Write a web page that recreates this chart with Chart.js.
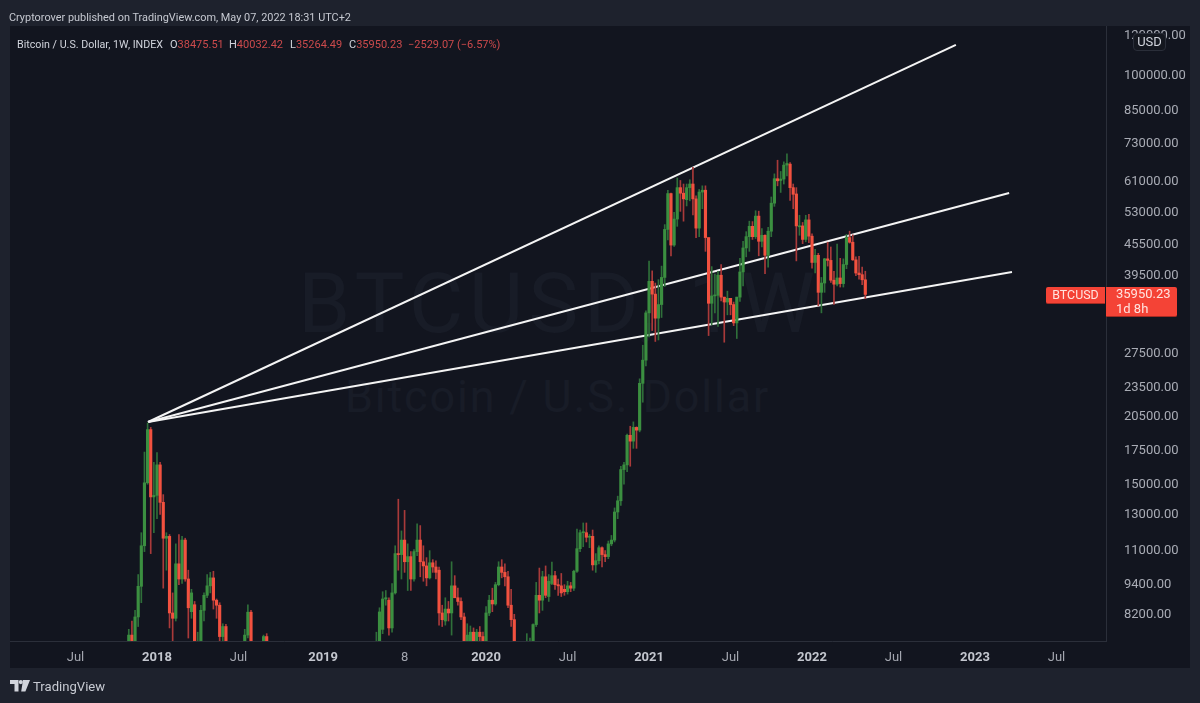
<!DOCTYPE html>
<html>
<head>
<meta charset="utf-8">
<title>Bitcoin / U.S. Dollar, 1W</title>
<script src="https://cdn.jsdelivr.net/npm/chart.js@4"></script>
<style>
  html, body { margin: 0; padding: 0; background: #1e222d; width: 1200px; height: 703px; overflow: hidden; }
  body { font-family: Roboto, "Liberation Sans", sans-serif; position: relative; }
  #panel { position: absolute; left: 10px; top: 26px; width: 1180px; height: 642px; background: #12151f; }
  .mark { position: absolute; color: #181c27; white-space: nowrap; font-family: Roboto, sans-serif; }
  #markSymbol { left: 298px; top: 254px; font-size: 84px; letter-spacing: 5.3px; }
  #markName { left: 345px; top: 370px; font-size: 45px; letter-spacing: 1.8px; }
  #stage { position: absolute; left: 0; top: 0; width: 1200px; height: 703px; }
  .text { position: absolute; white-space: nowrap; }
  #byline { left: 9px; top: 11px; font-size: 10.9px; color: #c6c9d1; }
  .legend { top: 38px; font-size: 11px; color: #d1d4dc; }
  .legend.name { font-size: 10.7px; top: 38px; }
  .legend b { font-weight: 400; color: #cc4a4c; }
  #usd { left: 1133px; top: 33px; width: 31px; height: 16px; border: 1px solid #2a2e39; border-radius: 4px; background: #14171f;
         color: #d1d4dc; font-size: 13px; line-height: 16px; text-align: center; }
  #tagName { left: 1046px; top: 287px; width: 59px; height: 16px; background: #f44336; border-bottom: 1px solid #a52b22; border-radius: 2px 0 0 2px;
             color: #ffe3df; font-size: 12.4px; line-height: 16px; text-align: center; }
  #tagPrice { left: 1106px; top: 287px; width: 71px; height: 29px; background: #f44336; border-bottom: 1px solid #a52b22; border-radius: 0 2px 2px 0;
              color: #ffe3df; font-size: 13px; line-height: 14.5px; padding-left: 0; }
  #tagPrice span { display: block; margin-left: 10px; }
  #brand { left: 33px; top: 679px; font-size: 13.1px; color: #c8cbd3; }
  #logo { position: absolute; left: 10px; top: 680px; }
</style>
</head>
<body>
<div id="panel"></div>
<div class="mark" id="markSymbol">BTCUSD, 1W</div>
<div class="mark" id="markName">Bitcoin / U.S. Dollar</div>
<div id="stage"><canvas id="chart" width="1200" height="703"></canvas></div>

<div class="text" id="byline">Cryptorover published on TradingView.com, May 07, 2022 18:31 UTC+2</div>
<div class="text legend name" style="left:17px">Bitcoin / U.S. Dollar, 1W, INDEX</div>
<div class="text legend" style="left:170px">O<b>38475.51</b></div>
<div class="text legend" style="left:229px">H<b>40032.42</b></div>
<div class="text legend" style="left:290px">L<b>35264.49</b></div>
<div class="text legend" style="left:349px">C<b>35950.23</b></div>
<div class="text legend" style="left:408px"><b>−2529.07 (−6.57%)</b></div>
<div class="text" id="usd">USD</div>
<div class="text" id="tagName">BTCUSD</div>
<div class="text" id="tagPrice"><span>35950.23</span><span>1d 8h</span></div>
<svg id="logo" width="20" height="12" viewBox="0 0 20 12">
  <path d="M0 0h8.5v11.5h-4V4H0z M13 0h7l-4.6 11.5H11.2z" fill="#d1d4dc"/>
  <circle cx="10.8" cy="2.1" r="2.1" fill="#d1d4dc"/>
</svg>
<div class="text" id="brand">TradingView</div>

<script>
// Weekly candles, one entry per week. Week 0 starts on 2018-01-01.
const firstWeek = -9;

const opens = [
  6100,7400,5900,8050,9280,11200,15000,19200,14050,14150,
  16300,13700,11600,11700,8200,8000,10300,9600,11500,9600,
  8250,8520,6900,7000,8300,8900,9300,9650,8700,8500,
  7350,7700,6700,6500,6200,6300,6700,6300,7400,8230,
  7000,6300,6300,6700,7350,6500,6500,6700,6600,6600,
  6500,6500,6450,6350,6400,5600,4300,4000,3500,3200,
  3900,3800,3850,3600,3550,3570,3450,3450,3650,3880,
  3850,3930,3980,3990,4100,5000,5080,5300,5300,5700,
  7150,7600,8750,8700,7650,9000,10800,10750,11500,10400,
  10650,9600,10900,11500,10400,10200,9650,10350,10150,10000,
  8200,7900,8350,8200,9300,8800,8650,8050,7050,7100,
  7500,7150,7500,7350,7000,8200,8700,8550,9350,10150,
  9900,9700,8500,7950,5200,5800,6250,6770,7050,7100,
  7770,8900,8700,9700,8850,9400,9750,9350,9300,9150,
  9050,9300,9200,9950,11050,11900,11900,11650,11700,10250,
  10450,11100,10750,10650,11300,11500,13100,13800,15950,16300,
  18700,18200,19400,19150,23800,26500,33000,38200,36000,32200,
  34300,38900,48600,57400,45200,51000,59000,57500,55800,59000,
  60000,56000,48900,57800,58300,46800,34500,35700,35800,39300,
  35500,34700,35300,34300,31500,35500,39900,44600,47000,49300,
  47000,51700,46000,47300,43100,48200,54900,61500,61000,61400,
  65500,65800,59000,57300,49200,49400,46400,50800,47100,41700,
  43100,36300,37900,42400,42100,38400,37700,38800,37800,41300,
  46800,45800,42200,39700,39400,38475.51
];

const highs = [
  7600,7900,8300,9800,11900,17300,19800,19400,16500,17250,
  16500,14200,11900,11800,9000,11300,11800,11700,11600,10000,
  9150,8650,7500,8500,9000,9800,9900,9950,8750,8600,
  7800,7780,6900,6800,6500,6800,6800,7600,8520,8300,
  7150,6500,6800,7400,7450,6700,6800,6800,6700,6650,
  6650,6600,6550,6550,6500,5700,4500,4400,3600,4200,
  4200,4050,4100,3700,3650,3650,3550,3700,4150,3950,
  4000,4050,4100,4250,5350,5450,5450,5650,5800,7500,
  8400,9050,9100,8800,9400,11200,13900,12000,13200,11300,
  10900,11000,12400,12300,11200,10600,10950,10500,10450,10150,
  8500,8800,8650,10400,9750,9200,8800,8200,7800,7720,
  7650,7600,7700,7500,8450,8900,9200,9450,10400,10500,
  10300,9950,9150,8150,6900,6950,7150,7450,7300,7800,
  9450,10100,9950,10200,9800,10380,9950,9600,9850,9350,
  9500,9450,10000,12100,12050,12450,12450,11800,12050,10800,
  11200,11150,10950,11450,11750,13350,14100,16200,16500,18800,
  19500,19900,19450,24300,28400,33300,41950,40100,37900,38500,
  41000,49700,58300,57500,52600,61700,61000,60000,60000,61200,
  64800,56800,58500,59500,59500,46800,40900,39500,40000,41300,
  35500,36500,35200,34700,35500,42500,46000,48100,50500,50400,
  53000,52900,48800,47400,49100,56500,62900,67000,63600,66500,
  69000,66300,60000,59000,51900,50200,51900,52100,47600,44300,
  43500,38900,42500,45800,44800,40000,45400,42500,42400,47500,
  48200,47400,42800,42900,40800,40032.42
];

const lows = [
  6000,5500,5600,7700,8600,10900,14900,10800,11900,12700,
  12950,9200,10000,7650,6000,7900,9350,9400,9500,7300,
  8000,6600,6600,6900,7900,8800,9000,8350,8000,7100,
  7100,6500,6300,5800,5800,6200,6100,6250,7300,6900,
  5900,5900,6200,6650,6100,6200,6400,6350,6450,6250,
  6150,6350,6300,6250,5300,3800,3500,3400,3150,3150,
  3650,3650,3500,3450,3500,3400,3350,3430,3620,3700,
  3750,3850,3900,3850,4050,4850,5000,5150,5150,5650,
  6800,7450,8500,7400,7500,8950,10000,9600,9900,9100,
  9100,9500,10700,9700,9500,9300,9600,9900,9600,7750,
  7700,7750,7900,7400,8800,8500,7950,6500,6900,7000,
  7000,6900,7200,6900,6850,8100,8250,8500,9300,9650,
  9300,8400,7700,3900,4500,5700,6150,6750,6500,7000,
  7700,8200,8300,8800,8650,9350,9150,8900,8850,8900,
  8950,9050,9100,9900,10900,11150,11400,11100,10000,9900,
  10300,10150,10400,10550,11200,11400,12700,13500,14900,15800,
  16200,17600,17600,19000,21800,25800,29500,30400,28900,29100,
  32300,37300,46300,43000,44900,49300,52850,50500,54200,55500,
  52000,46800,47000,53500,43900,29700,31200,33000,31000,34900,
  28800,32700,32700,31100,29300,34800,37400,42800,43900,46400,
  46600,43000,44800,39600,40800,47000,54100,59500,57700,60000,
  62300,55600,53500,42000,47300,45500,45900,45700,40600,39700,
  34100,33000,36300,41000,38000,34300,37400,37200,37200,40500,
  45600,42100,39200,38600,37600,35264.49
];

const closes = [
  7400,5900,8050,9280,11200,15000,19200,14050,14150,16300,
  13700,11600,11700,8200,8000,10300,9600,11500,9600,8400,
  9000,7000,7000,8300,8900,9300,9650,8700,8500,7350,
  7700,6700,6500,6200,6300,6700,6300,7400,8230,7000,
  6300,6300,6700,7350,6500,6500,6700,6600,6600,6500,
  6500,6450,6350,6400,5600,4300,4000,3500,3200,3900,
  3800,3850,3600,3550,3570,3450,3450,3650,3880,3850,
  3930,3980,3990,4100,5000,5080,5300,5300,5700,7150,
  8240,8750,8800,7650,9000,10800,10750,11500,10400,10650,
  9600,10900,11500,10400,10200,9650,10350,10150,9900,8200,
  7950,8350,8200,9300,8800,8650,8050,7050,7400,7500,
  7150,7500,7350,7000,8200,8700,8550,9350,10150,9900,
  9700,8500,7950,5200,5800,6250,6770,7050,7100,7770,
  8900,8700,9700,8900,9500,9750,9350,9300,9000,9050,
  9300,9200,9950,11050,11900,11950,11650,11700,10250,10450,
  11100,10750,10650,11300,11500,13100,13800,15950,16300,18700,
  18200,19400,19150,23800,26500,33000,38200,36000,32200,34300,
  38900,48600,57400,45200,51000,59000,57500,56000,59000,60000,
  56000,48900,57800,58300,46800,34500,35700,35800,39300,35500,
  34700,35300,34300,31500,35500,39900,44600,47000,49300,47000,
  51700,46000,47300,43100,48200,54900,61500,60900,61400,65500,
  66000,59000,57200,49400,49400,46400,50800,47100,41700,43100,
  36300,37900,42400,42100,38400,37700,38800,37800,41300,46800,
  45800,42200,39700,39400,38475.51,35950.23
];

// Price axis range and labels
const priceMin = 7200;
const priceMax = 124900;
const priceTicks = [120000,100000,85000,73000,61000,53000,45500,39500,27500,23500,20500,17500,15000,13000,11000,9400,8200];

// Time axis labels, given by the week they fall on
const timeTickWeeks  = [-26,0,26,53,79,105,131,157,183,209,235,261,287];
const timeTickLabels = ['Jul','2018','Jul','2019','8','2020','Jul','2021','Jul','2022','Jul','2023','Jul'];

// Drawn trend lines: all three fan out of the December 2017 top
const trendOriginWeek = -2.87;
const trendOriginPrice = 19890;
const trendEndWeeks  = [254.9, 271.9, 272.8];
const trendEndPrices = [114400, 57570, 39900];

const UP_BODY = '#3b8f40', UP_WICK = '#2f6f3a';
const DOWN_BODY = '#f2513f', DOWN_WICK = '#a93a3a';

const isUp = i => closes[i] >= opens[i];

// Weeks that lie wholly under the axis floor get no bar, otherwise the minimum
// bar length would pin a stub onto the bottom edge of the plot.
const inRange = (a, b) => Math.max(a, b) >= priceMin;
const wickIdx = opens.map((_, i) => i).filter(i => inRange(lows[i], highs[i]));
const bodyIdx = opens.map((_, i) => i).filter(i => inRange(opens[i], closes[i]));

const wicks = {
  type: 'bar', order: 2, barThickness: 1,
  data: wickIdx.map(i => ({ x: firstWeek + i, y: [lows[i], highs[i]] })),
  backgroundColor: wickIdx.map(i => isUp(i) ? UP_WICK : DOWN_WICK)
};
const bodies = {
  type: 'bar', order: 1, barThickness: 2.5, minBarLength: 1,
  data: bodyIdx.map(i => ({ x: firstWeek + i, y: [opens[i], closes[i]] })),
  backgroundColor: bodyIdx.map(i => isUp(i) ? UP_BODY : DOWN_BODY)
};
const trends = trendEndWeeks.map((w, i) => ({
  type: 'line', order: 3, pointRadius: 0, borderWidth: 2, borderColor: '#f4f4f4', tension: 0,
  data: [{ x: trendOriginWeek, y: trendOriginPrice }, { x: w, y: trendEndPrices[i] }]
}));

const isYearLabel = s => /^\d{4}$/.test(s);
const labelForWeek = v => timeTickLabels[timeTickWeeks.indexOf(v)] || '';
const isYearTick = c => !!c.tick && isYearLabel(labelForWeek(c.tick.value));

new Chart(document.getElementById('chart'), {
  data: { datasets: [...trends, wicks, bodies] },
  options: {
    responsive: false,
    animation: false,
    datasets: { bar: { grouped: false } },
    layout: { padding: { left: 10, top: 26, right: 10, bottom: 35 } },
    plugins: { legend: { display: false }, tooltip: { enabled: false }, title: { display: false } },
    scales: {
      x: {
        type: 'linear',
        offset: false,
        min: -46.9,
        max: 302.8,
        grid: { display: false },
        border: { color: '#2b2f3a' },
        afterBuildTicks: s => { s.ticks = timeTickWeeks.map(value => ({ value })); },
        afterFit: s => { s.height = 27; },
        ticks: {
          autoSkip: false,
          maxRotation: 0,
          padding: 1,
          callback: labelForWeek,
          font: c => ({ family: 'Roboto', size: 13, weight: isYearTick(c) ? '700' : '400' }),
          color: c => isYearTick(c) ? '#c3c6ce' : '#a3a6af'
        }
      },
      y: {
        type: 'logarithmic',
        position: 'right',
        min: priceMin,
        max: priceMax,
        grid: { display: false },
        border: { color: '#2b2f3a' },
        afterBuildTicks: s => { s.ticks = priceTicks.map(value => ({ value })); },
        afterFit: s => { s.width = 84; },
        ticks: {
          autoSkip: false,
          padding: 10,
          labelOffset: 1.5,
          callback: v => Number(v).toFixed(2),
          font: { family: 'Roboto', size: 13 },
          color: '#a9acb5'
        }
      }
    }
  }
});
</script>
</body>
</html>
